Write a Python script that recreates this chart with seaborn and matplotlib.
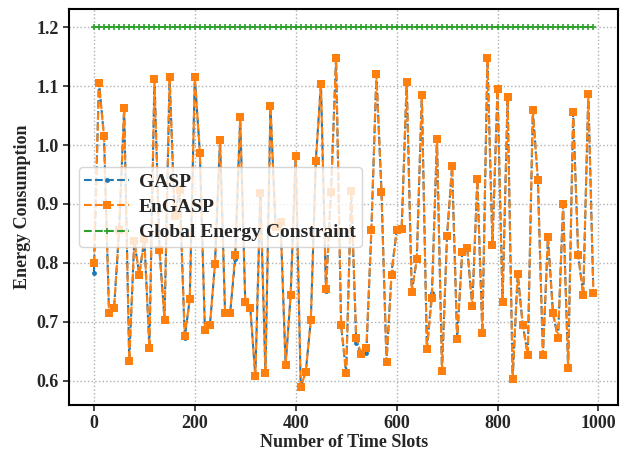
import matplotlib
matplotlib.use("Agg")
import matplotlib.pyplot as plt
import seaborn as sns
import numpy as np
import pandas as pd

# Time slots (every 10th slot)
time_slots = list(range(0, 1000, 10))

# Per-slot energy consumption of the EnGASP scheduler
engasp = [
    0.799, 1.105, 1.015, 0.715, 0.723, 0.856, 1.063, 0.634, 0.837, 0.780,
    0.840, 0.655, 1.112, 0.822, 0.703, 1.116, 0.880, 0.924, 0.676, 0.738,
    1.116, 0.987, 0.686, 0.694, 0.798, 1.008, 0.715, 0.714, 0.814, 1.047,
    0.733, 0.723, 0.607, 0.919, 0.613, 1.067, 0.860, 0.870, 0.626, 0.745,
    0.982, 0.589, 0.615, 0.703, 0.973, 1.104, 0.755, 0.920, 1.148, 0.694,
    0.612, 0.922, 0.672, 0.645, 0.655, 0.855, 1.120, 0.921, 0.631, 0.779,
    0.855, 0.857, 1.107, 0.750, 0.806, 1.085, 0.653, 0.741, 1.010, 0.616,
    0.846, 0.964, 0.670, 0.818, 0.825, 0.726, 0.942, 0.680, 1.148, 0.830,
    1.095, 0.733, 1.081, 0.603, 0.781, 0.695, 0.644, 1.059, 0.941, 0.644,
    0.844, 0.714, 0.672, 0.899, 0.621, 1.056, 0.813, 0.745, 1.087, 0.749,
]

# Per-slot energy consumption of the GASP scheduler
gasp = [
    0.782, 1.108, 1.015, 0.715, 0.723, 0.856, 1.063, 0.634, 0.837, 0.780,
    0.840, 0.655, 1.112, 0.822, 0.703, 1.116, 0.880, 0.924, 0.673, 0.738,
    1.116, 0.987, 0.686, 0.694, 0.798, 1.008, 0.715, 0.714, 0.806, 1.047,
    0.733, 0.723, 0.607, 0.919, 0.613, 1.067, 0.860, 0.870, 0.626, 0.745,
    0.982, 0.589, 0.615, 0.703, 0.976, 1.104, 0.752, 0.920, 1.148, 0.694,
    0.612, 0.922, 0.663, 0.645, 0.646, 0.855, 1.120, 0.921, 0.631, 0.784,
    0.855, 0.857, 1.107, 0.750, 0.806, 1.085, 0.653, 0.749, 1.010, 0.616,
    0.846, 0.964, 0.670, 0.818, 0.825, 0.726, 0.942, 0.680, 1.148, 0.830,
    1.095, 0.733, 1.081, 0.603, 0.781, 0.695, 0.644, 1.059, 0.941, 0.644,
    0.844, 0.714, 0.672, 0.899, 0.621, 1.056, 0.813, 0.745, 1.087, 0.749,
]

# Global energy budget per slot
constraint_level = 1.2
constraint = [constraint_level] * len(time_slots)

series_names = ["GASP", "EnGASP", "Global Energy Constraint"]
series_colors = ["#1f77b4", "#ff7f0e", "#2ca02c"]

sns.set_style("ticks")
plt.rcParams["font.family"] = ["Liberation Serif", "DejaVu Serif"]
plt.rcParams["font.weight"] = "bold"
plt.rcParams["axes.labelweight"] = "bold"

fig = plt.figure(figsize=(6.21, 4.53), dpi=100)
ax = fig.add_axes([0.111, 0.106, 0.8847, 0.8735])

df = pd.DataFrame({"slot": time_slots, "GASP": gasp, "EnGASP": engasp,
                   "constraint": constraint})

sns.lineplot(data=df, x="slot", y="GASP", ax=ax, color=series_colors[0],
             linestyle="--", linewidth=1.5, marker=".", markersize=7,
             markeredgewidth=0, markeredgecolor=series_colors[0],
             label=series_names[0])
sns.lineplot(data=df, x="slot", y="EnGASP", ax=ax, color=series_colors[1],
             linestyle="--", linewidth=1.5, marker="s", markersize=5.5,
             markeredgewidth=0, markeredgecolor=series_colors[1],
             label=series_names[1])
sns.lineplot(data=df, x="slot", y="constraint", ax=ax,
             color=series_colors[2], linestyle="--", linewidth=1.5,
             marker="+", markersize=5, markeredgewidth=1.2,
             markeredgecolor=series_colors[2], label=series_names[2])

ax.set_xlabel("Number of Time Slots", fontsize=13, fontweight="bold",
              labelpad=1)
ax.set_ylabel("Energy Consumption", fontsize=13, fontweight="bold")
ax.set_xticks([0, 200, 400, 600, 800, 1000])
ax.set_yticks([0.6, 0.7, 0.8, 0.9, 1.0, 1.1, 1.2])
ax.tick_params(axis="both", labelsize=13, direction="out", length=4, width=1.2)
for lbl in ax.get_xticklabels() + ax.get_yticklabels():
    lbl.set_fontweight("bold")

ax.grid(True, linestyle=":", color="#b0b0b0", linewidth=1.0)
for sp in ax.spines.values():
    sp.set_visible(True)
    sp.set_linewidth(1.5)
    sp.set_color("black")

leg = ax.legend(loc="center left", prop={"family": "Liberation Serif",
                                         "weight": "bold", "size": 14},
                handlelength=2.3, handletextpad=0.5, borderpad=0.3,
                labelspacing=0.4, framealpha=0.8)

fig.savefig("out.png", dpi=100)
